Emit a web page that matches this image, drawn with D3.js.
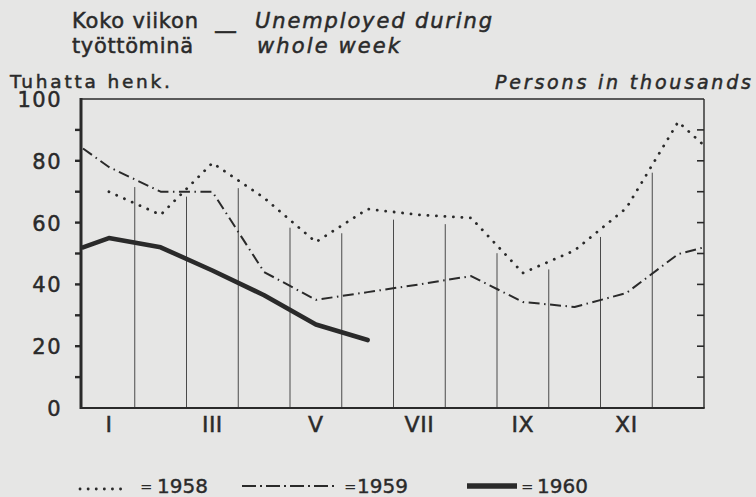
<!DOCTYPE html>
<html>
<head>
<meta charset="utf-8">
<script src="https://cdn.jsdelivr.net/npm/d3@7"></script>
<style>
  html, body { margin: 0; padding: 0; background: #e6e6e5; }
  svg { display: block; font-family: "DejaVu Sans", sans-serif; }
</style>
</head>
<body>
<div id="chart"></div>
<script>
// Unemployed during whole week, thousands of persons, by month

// x positions in months (0 = start of January, 12 = end of December)
const x1958 = [0.5, 1.5, 2.5, 3.5, 4.5, 5.5, 6.5, 7.5, 8.5, 9.5, 10.5, 11.5, 12];
const v1958 = [70, 62.5, 79.3, 68, 53.7, 64.4, 62.5, 61.5, 43.7, 51, 64.7, 92.6, 85];

const x1959 = [0, 0.5, 1.5, 2.5, 3.5, 4.5, 5.5, 6.5, 7.5, 8.5, 9.5, 10.5, 11.5, 12];
const v1959 = [84, 78, 70, 70, 44, 35, 37.5, 40, 42.7, 34.3, 32.7, 37.2, 49.8, 52];

const x1960 = [0, 0.5, 1.5, 2.5, 3.5, 4.5, 5.5];
const v1960 = [52, 55, 52, 44.5, 36.5, 27, 22];

const monthLabels = ["I", "III", "V", "VII", "IX", "XI"];
const monthLabelPos = [0.5, 2.5, 4.5, 6.5, 8.5, 10.5];
const yTickLabels = [0, 20, 40, 60, 80, 100];
const legendYears = ["1958", "1959", "1960"];

const width = 756, height = 497;
const ink = "#2a2a2a";

const svg = d3.select("#chart").append("svg")
    .attr("width", width)
    .attr("height", height);

const x = d3.scaleLinear().domain([0, 12]).range([83, 704]);
const y = d3.scaleLinear().domain([0, 100]).range([408, 99]);

const series = [
    { xs: x1958, vs: v1958, width: 2.8, dash: "0.1 8.4", cap: "round" },
    { xs: x1959, vs: v1959, width: 2, dash: "11 4.5 1.5 4.5", cap: "butt" },
    { xs: x1960, vs: v1960, width: 4.6, dash: null, cap: "round" }
];

// value of a series at month m (linear between points), or null outside it
function valueAt(s, m) {
    const xs = s.xs, vs = s.vs;
    if (m < xs[0] || m > xs[xs.length - 1]) return null;
    for (let i = 0; i < xs.length - 1; i++) {
        if (m >= xs[i] && m <= xs[i + 1]) {
            const t = (m - xs[i]) / (xs[i + 1] - xs[i]);
            return vs[i] + t * (vs[i + 1] - vs[i]);
        }
    }
    return vs[vs.length - 1];
}

// vertical month dividers, drawn up to just under the highest curve
svg.append("g")
    .selectAll("line")
    .data(d3.range(1, 12))
    .join("line")
    .attr("x1", d => x(d)).attr("x2", d => x(d))
    .attr("y1", y(0))
    .attr("y2", d => y(d3.max(series, s => valueAt(s, d)) - 2.5))
    .attr("stroke", "#4a4a4a")
    .attr("stroke-width", 1);

// frame: thin top and right, heavier bottom and left
svg.append("line").attr("x1", 81).attr("x2", 704).attr("y1", 99).attr("y2", 99)
    .attr("stroke", ink).attr("stroke-width", 1.4);
svg.append("line").attr("x1", 704).attr("x2", 704).attr("y1", 99).attr("y2", 408)
    .attr("stroke", ink).attr("stroke-width", 1.4);
svg.append("line").attr("x1", 80).attr("x2", 704.7).attr("y1", 408).attr("y2", 408)
    .attr("stroke", ink).attr("stroke-width", 2);
svg.append("line").attr("x1", 81).attr("x2", 81).attr("y1", 98).attr("y2", 409)
    .attr("stroke", ink).attr("stroke-width", 3);

// left ticks every 10, outward
svg.append("g")
    .selectAll("line")
    .data(d3.range(10, 100, 10))
    .join("line")
    .attr("x1", 75).attr("x2", 81)
    .attr("y1", d => y(d)).attr("y2", d => y(d))
    .attr("stroke", ink).attr("stroke-width", 2.4);

// right ticks every 10, inward
svg.append("g")
    .selectAll("line")
    .data(d3.range(10, 100, 10))
    .join("line")
    .attr("x1", 697).attr("x2", 704)
    .attr("y1", d => y(d)).attr("y2", d => y(d))
    .attr("stroke", ink).attr("stroke-width", 1.6);

// y labels
svg.append("g")
    .selectAll("text")
    .data(yTickLabels)
    .join("text")
    .attr("x", 62)
    .attr("y", d => y(d) + 8)
    .attr("text-anchor", "end")
    .attr("font-size", 21)
    .attr("letter-spacing", 1.5)
    .attr("fill", ink)
    .attr("stroke", ink).attr("stroke-width", 0.5)
    .text(d => d);

// month labels
svg.append("g")
    .selectAll("text")
    .data(monthLabels)
    .join("text")
    .attr("x", (d, i) => x(monthLabelPos[i]))
    .attr("y", 432)
    .attr("text-anchor", "middle")
    .attr("font-size", 22)
    .attr("letter-spacing", 0.5)
    .attr("fill", ink)
    .attr("stroke", ink).attr("stroke-width", 0.5)
    .text(d => d);

// curves
const line = d3.line()
    .x(d => x(d[0]))
    .y(d => y(d[1]));

svg.append("g")
    .selectAll("path")
    .data(series)
    .join("path")
    .attr("d", s => line(s.xs.map((m, i) => [m, s.vs[i]])))
    .attr("fill", "none")
    .attr("stroke", ink)
    .attr("stroke-width", s => s.width)
    .attr("stroke-dasharray", s => s.dash)
    .attr("stroke-linecap", s => s.cap)
    .attr("stroke-linejoin", "round");

// titles
function label(txt, px, py, size, len, italic) {
    svg.append("text")
        .attr("x", px).attr("y", py)
        .attr("font-size", size)
        .attr("font-style", italic ? "italic" : "normal")
        .attr("fill", ink)
        .attr("stroke", ink).attr("stroke-width", 0.5)
        .attr("textLength", len)
        .attr("lengthAdjust", "spacing")
        .text(txt);
}
label("Koko viikon", 72, 28, 21, 126, false);
label("työttöminä", 72, 53, 21, 121, false);
label("Unemployed during", 255, 28, 21, 237, true);
label("whole week", 257, 53, 21, 143, true);
label("Tuhatta henk.", 10, 88, 18.5, 160, false);
label("Persons in thousands", 495, 89, 19, 256, true);

svg.append("text")
    .attr("x", 214).attr("y", 39)
    .attr("font-size", 23)
    .attr("fill", ink)
    .attr("stroke", ink).attr("stroke-width", 0.6)
    .text("—");

// legend: sample line, "=" sign, year
const legendSample = [[80, 128], [242, 338], [467, 517]];
const legendEq = [140, 344, 521];
const legendText = [157, 357, 537];
const legendY = 486;

legendYears.forEach((yr, i) => {
    const s = series[i];
    const ly = i === 0 ? legendY + 3 : legendY;
    svg.append("line")
        .attr("x1", legendSample[i][0]).attr("x2", legendSample[i][1])
        .attr("y1", ly).attr("y2", ly)
        .attr("stroke", ink)
        .attr("stroke-width", i === 2 ? 5.5 : s.width)
        .attr("stroke-dasharray", i === 1 ? "14 4 2 4" : (i === 0 ? "0.1 8" : null))
        .attr("stroke-linecap", i === 0 ? "round" : "butt");
    svg.append("text")
        .attr("x", legendEq[i]).attr("y", legendY + 6)
        .attr("font-size", 15)
        .attr("fill", ink)
        .text("=");
    svg.append("text")
        .attr("x", legendText[i]).attr("y", legendY + 7)
        .attr("font-size", 20)
        .attr("fill", ink)
        .attr("stroke", ink).attr("stroke-width", 0.4)
        .text(yr);
});
</script>
</body>
</html>
